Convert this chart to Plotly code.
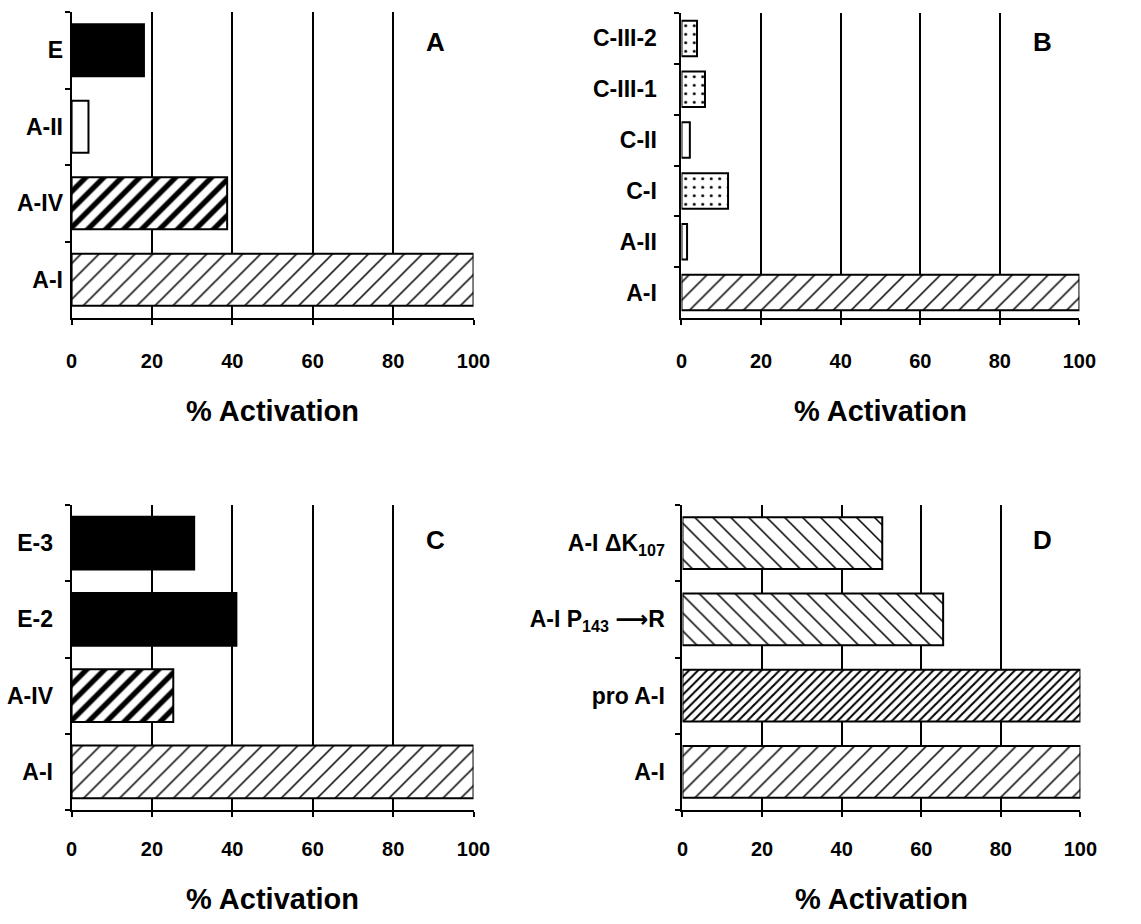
import plotly.graph_objects as go

W, H = 1141, 924

# ---- data (categories listed bottom -> top) ----
cats_a = ["A-I", "A-IV", "A-II", "E"]
vals_a = [100, 38.7, 4.2, 18]

cats_b = ["A-I", "A-II", "C-I", "C-II", "C-III-1", "C-III-2"]
vals_b = [100, 1.4, 11.7, 2.1, 5.9, 3.9]

cats_c = ["A-I", "A-IV", "E-2", "E-3"]
vals_c = [100, 25.3, 41, 30.5]

cats_d = ["A-I", "pro A-I", "A-I P<sub>143</sub> \u27f6R", "A-I \u0394K<sub>107</sub>"]
vals_d = [100, 100, 65.5, 50.2]

x_ticks = [0, 20, 40, 60, 80, 100]
panel_letters = ["A", "B", "C", "D"]
x_title = "% Activation"

# ---- styles per category ----
STYLE = {
    "A-I": dict(shape="/", size=12.7, solidity=0.12, color="white"),
    "A-IV": dict(shape="/", size=12.7, solidity=0.42, color="white"),
    "A-II": dict(shape="", size=8, solidity=0.1, color="white"),
    "C-II": dict(shape="", size=8, solidity=0.1, color="white"),
    "E": dict(shape="", size=8, solidity=0.1, color="black"),
    "E-2": dict(shape="", size=8, solidity=0.1, color="black"),
    "E-3": dict(shape="", size=8, solidity=0.1, color="black"),
    "C-I": dict(shape=".", size=8.5, solidity=0.1, color="white"),
    "C-III-1": dict(shape=".", size=8.5, solidity=0.1, color="white"),
    "C-III-2": dict(shape=".", size=8.5, solidity=0.1, color="white"),
    "pro A-I": dict(shape="/", size=6.4, solidity=0.32, color="white"),
    cats_d[2]: dict(shape="\\", size=12.7, solidity=0.12, color="white"),
    cats_d[3]: dict(shape="\\", size=12.7, solidity=0.12, color="white"),
}

FONT = "Liberation Sans, Arial, Helvetica, DejaVu Sans, sans-serif"

# the page is captured slightly compressed horizontally; map target pixel -> layout pixel
def cx(x):
    return (x - 5.4) / 0.98

def px_x(a, b):
    return [cx(a) / W, cx(b) / W]

def px_y(top, bottom):
    return [1 - bottom / H, 1 - top / H]

panels = [
    dict(cats=cats_a, vals=vals_a, xd=px_x(71, 473), yd=px_y(12, 318), width=0.68, stand=2,
         xstand=19, letter_xy=(435, 42)),
    dict(cats=cats_b, vals=vals_b, xd=px_x(681, 1079), yd=px_y(13, 318), width=0.70, stand=18,
         xstand=19, letter_xy=(1042, 42)),
    dict(cats=cats_c, vals=vals_c, xd=px_x(71, 473), yd=px_y(505, 810), width=0.69, stand=12,
         xstand=15, letter_xy=(435, 540)),
    dict(cats=cats_d, vals=vals_d, xd=px_x(682, 1080), yd=px_y(505, 810), width=0.68, stand=11,
         xstand=15, letter_xy=(1042, 540)),
]

fig = go.Figure()
layout = dict(
    width=W, height=H, autosize=False,
    margin=dict(l=0, r=0, t=0, b=0),
    paper_bgcolor="white", plot_bgcolor="white",
    showlegend=False, barmode="overlay",
    annotations=[],
)

for i, p in enumerate(panels):
    n = "" if i == 0 else str(i + 1)
    for c, v in zip(p["cats"], p["vals"]):
        s = STYLE[c]
        fig.add_trace(go.Bar(
            x=[v], y=[c], orientation="h",
            xaxis="x" + n, yaxis="y" + n,
            width=p["width"],
            marker=dict(
                color=s["color"],
                line=dict(color="black", width=2),
                pattern=dict(
                    shape=s["shape"], size=s["size"], solidity=s["solidity"],
                    fgcolor="black", bgcolor=s["color"], fgopacity=1,
                    fillmode="overlay",
                ),
            ),
            opacity=1,
            hoverinfo="skip",
        ))
    layout["xaxis" + n] = dict(
        domain=p["xd"], anchor="y" + n, range=[0, 100],
        tickvals=x_ticks, ticktext=[str(t) for t in x_ticks],
        showgrid=True, gridcolor="black", gridwidth=2,
        showline=True, linecolor="black", linewidth=2,
        ticks="outside", ticklen=5, tickwidth=2, tickcolor="black",
        zeroline=False, ticklabelstandoff=p["xstand"],
        tickfont=dict(family=FONT, size=20, color="black", weight="bold"),
        title=dict(text=x_title, standoff=30,
                   font=dict(family=FONT, size=29, color="black", weight="bold")),
        fixedrange=True,
    )
    layout["yaxis" + n] = dict(
        domain=p["yd"], anchor="x" + n, type="category",
        categoryorder="array", categoryarray=p["cats"],
        range=[-0.5, len(p["cats"]) - 0.5],
        showgrid=False, showline=True, linecolor="black", linewidth=2,
        mirror=False,
        ticks="outside", tickson="boundaries", ticklen=5, tickwidth=2, tickcolor="black",
        ticklabelstandoff=p["stand"],
        tickfont=dict(family=FONT, size=23, color="black", weight="bold"),
        fixedrange=True,
    )
    lx, ly = p["letter_xy"]
    layout["annotations"].append(dict(
        text=panel_letters[i], x=cx(lx) / W, y=1 - ly / H, xref="paper", yref="paper",
        showarrow=False, xanchor="center", yanchor="middle",
        font=dict(family=FONT, size=26, color="black", weight="bold"),
    ))

fig.update_layout(**layout)
fig.write_html(
    "out.html",
    config={"responsive": False, "displayModeBar": False, "staticPlot": True},
    post_script="document.body.style.margin='0';document.body.style.padding='0';"
                "document.body.style.overflow='hidden';"
                "document.documentElement.style.overflow='hidden';",
)
